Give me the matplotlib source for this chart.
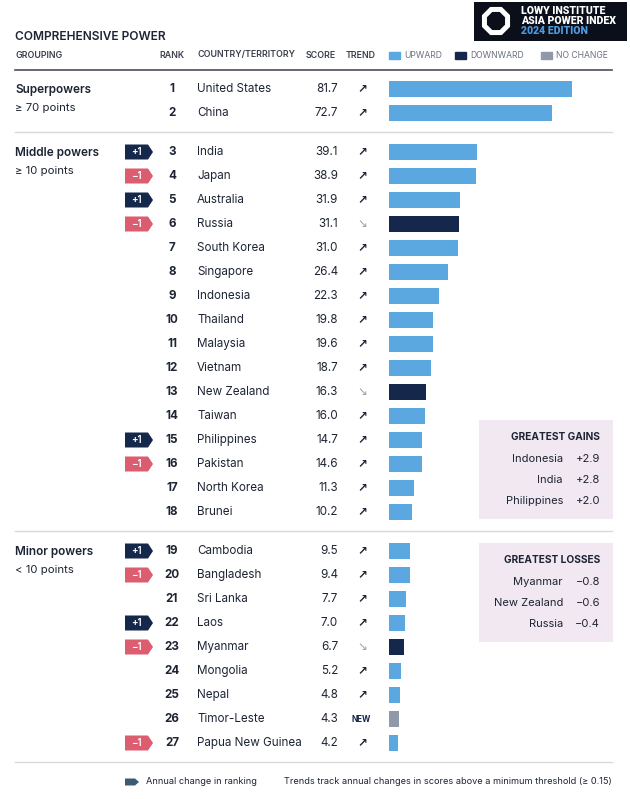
import matplotlib.pyplot as plt
from matplotlib.patches import Polygon, Rectangle, RegularPolygon

# ---- data ----
countries = ["United States", "China", "India", "Japan", "Australia", "Russia",
             "South Korea", "Singapore", "Indonesia", "Thailand", "Malaysia",
             "Vietnam", "New Zealand", "Taiwan", "Philippines", "Pakistan",
             "North Korea", "Brunei", "Cambodia", "Bangladesh", "Sri Lanka",
             "Laos", "Myanmar", "Mongolia", "Nepal", "Timor-Leste",
             "Papua New Guinea"]
ranks = list(range(1, 28))
scores = [81.7, 72.7, 39.1, 38.9, 31.9, 31.1, 31.0, 26.4, 22.3, 19.8, 19.6,
          18.7, 16.3, 16.0, 14.7, 14.6, 11.3, 10.2, 9.5, 9.4, 7.7, 7.0, 6.7,
          5.2, 4.8, 4.3, 4.2]
# trend: up / down / new
trends = ["up", "up", "up", "up", "up", "down", "up", "up", "up", "up", "up",
          "up", "down", "up", "up", "up", "up", "up", "up", "up", "up", "up",
          "down", "up", "up", "new", "up"]
rank_change = {"India": 1, "Japan": -1, "Australia": 1, "Russia": -1,
               "Philippines": 1, "Pakistan": -1, "Cambodia": 1,
               "Bangladesh": -1, "Laos": 1, "Myanmar": -1,
               "Papua New Guinea": -1}
groups = [("Superpowers", "\u2265 70 points", 0, 2),
          ("Middle powers", "\u2265 10 points", 2, 18),
          ("Minor powers", "< 10 points", 18, 27)]
gains_names = ["Indonesia", "India", "Philippines"]
gains_vals = ["+2.9", "+2.8", "+2.0"]
loss_names = ["Myanmar", "New Zealand", "Russia"]
loss_vals = ["\u22120.8", "\u22120.6", "\u22120.4"]

# ---- style ----
UP = "#5ba8e0"
DOWN = "#15284b"
NOCH = "#8f99a8"
TXT = "#1d2433"
PINK = "#dc5c70"
NAVY = "#15284b"
plt.rcParams['font.family'] = ['Inter', 'DejaVu Sans']

fig = plt.figure(figsize=(6.3, 7.99), dpi=100)
ax = fig.add_axes([0, 0, 1, 1])
ax.set_xlim(0, 630)
ax.set_ylim(799, 0)
ax.axis("off")

# row positions (pixel rows)
row_y = []
y = 89
for gi, (_, _, a, b) in enumerate(groups):
    for i in range(a, b):
        row_y.append(y)
        y += 24
    y += 15

# bar axes: 0..100 points over 224 px
bax = fig.add_axes([389 / 630, 0, 224 / 630, 1])
bax.set_xlim(0, 100)
bax.set_ylim(799, 0)
bax.axis("off")
bar_colors = [UP if t == "up" else DOWN if t == "down" else NOCH for t in trends]
bax.barh(row_y, scores, height=16, color=bar_colors, left=0)

# title & header
ax.text(15, 37, "COMPREHENSIVE POWER", fontsize=8.6, fontweight="semibold",
        color=TXT, va="center")
hdr = dict(fontsize=6.4, fontweight="semibold", color="#3b404b", va="center")
ax.text(15, 55, "GROUPING", **hdr)
ax.text(184, 55, "RANK", ha="right", **hdr)
ax.text(197, 55, "COUNTRY/TERRITORY", **hdr)
ax.text(306, 55, "SCORE", **hdr)
ax.text(346, 55, "TREND", **hdr)
for x0, lab, c in [(389, "UPWARD", UP), (455, "DOWNWARD", DOWN), (541, "NO CHANGE", NOCH)]:
    ax.add_patch(Rectangle((x0, 51.5), 11, 7, color=c))
    ax.text(x0 + 15, 55, lab, fontsize=6.2, color="#6b7180", va="center")

# separators
ax.plot([15, 612], [70, 70], color="#4a4f5a", lw=1.2)
for yy in [132, 531, 762]:
    ax.plot([15, 612], [yy, yy], color="#d9d9d9", lw=1)

# groups
for name, sub, a, b in groups:
    ax.text(15, row_y[a] + 1, name, fontsize=8.5, fontweight="semibold", color=TXT, va="center")
    ax.text(15, row_y[a] + 19, sub, fontsize=8.2, color=TXT, va="center")


def badge(x, yc, w, h, color):
    pts = [(x, yc - h / 2), (x + w - 5, yc - h / 2), (x + w, yc),
           (x + w - 5, yc + h / 2), (x, yc + h / 2)]
    ax.add_patch(Polygon(pts, closed=True, color=color, lw=0))


# rows
for i, c in enumerate(countries):
    yc = row_y[i]
    ax.text(172, yc, str(ranks[i]), fontsize=8.4, fontweight="bold", color=TXT,
            ha="center", va="center")
    ax.text(197, yc, c, fontsize=8.4, color=TXT, va="center")
    ax.text(338, yc, f"{scores[i]:.1f}", fontsize=8.4, color=TXT, ha="right", va="center")
    if trends[i] == "up":
        ax.text(362, yc, "\u2197", fontsize=8.5, fontweight="bold", color=TXT,
                ha="center", va="center", family="DejaVu Sans")
    elif trends[i] == "down":
        ax.text(362, yc, "\u2198", fontsize=8.5, color="#9aa3b0", ha="center",
                va="center", family="DejaVu Sans")
    else:
        ax.text(361, yc, "NEW", fontsize=5.8, fontweight="bold", color=NAVY,
                ha="center", va="center")
    if c in rank_change:
        d = rank_change[c]
        badge(125, yc, 28, 15, NAVY if d > 0 else PINK)
        ax.text(136, yc, f"+{d}" if d > 0 else f"\u2212{abs(d)}", fontsize=7,
                fontweight="semibold", color="white", ha="center", va="center")

# gains / losses boxes
BOX = "#f2e8f2"
for top, title, names, vals in [(420, "GREATEST GAINS", gains_names, gains_vals),
                                (543, "GREATEST LOSSES", loss_names, loss_vals)]:
    ax.add_patch(Rectangle((479, top), 134, 99, color=BOX, lw=0))
    ax.text(600, top + 17, title, fontsize=7.3, fontweight="bold", color=TXT,
            ha="right", va="center")
    for k, (n, v) in enumerate(zip(names, vals)):
        yy = top + 39 + k * 21
        ax.text(563, yy, n, fontsize=8, color=TXT, ha="right", va="center")
        ax.text(600, yy, v, fontsize=8, color=TXT, ha="right", va="center")

# logo
ax.add_patch(Rectangle((474, 2), 153, 39, color="#0b0f1a", lw=0))
ax.add_patch(RegularPolygon((496, 21), numVertices=8, radius=12.5, orientation=0.39,
                            facecolor="none", edgecolor="white", lw=3.6))
logo = dict(fontsize=7.6, fontweight="black", va="center", family="Roboto")
ax.text(521, 11, "LOWY INSTITUTE", color="white", **logo)
ax.text(521, 21, "ASIA POWER INDEX", color="white", **logo)
ax.text(521, 31, "2024 EDITION", color="#4d9ae0", **logo)

# footer
ax.add_patch(Polygon([(125, 778.5), (135, 778.5), (139, 782), (135, 785.5), (125, 785.5)],
                     closed=True, color="#3d5a73", lw=0))
ax.text(146, 782, "Annual change in ranking", fontsize=6.6, color=TXT, va="center")
ax.text(612, 782, "Trends track annual changes in scores above a minimum threshold (\u2265 0.15)",
        fontsize=6.6, color=TXT, va="center", ha="right")

fig.savefig("out.png", dpi=100, facecolor="white")
